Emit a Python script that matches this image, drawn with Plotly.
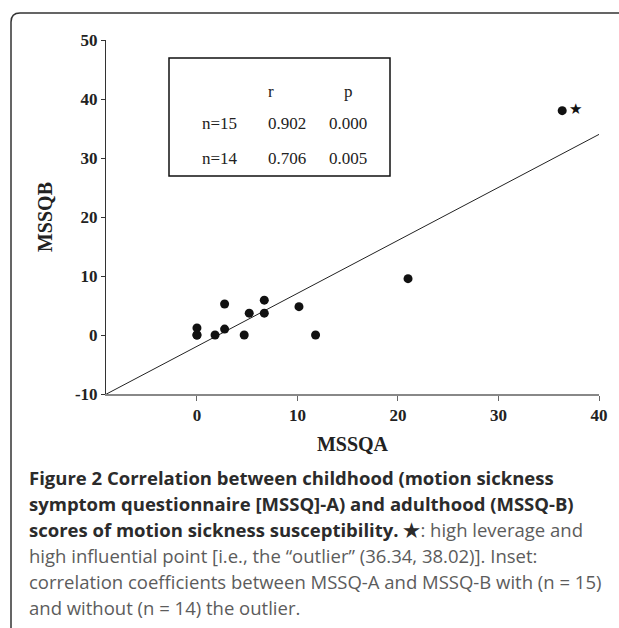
import plotly.graph_objects as go

# ---- data ----
mssqa = [0.0, 0.0, 0.0, 1.8, 2.75, 2.75, 4.7, 5.2, 6.7, 6.7, 10.15, 11.8, 21.0]
mssqb = [0.0, 0.0, 1.2, 0.0, 5.25, 1.0, 0.0, 3.7, 5.9, 3.7, 4.8, 0.0, 9.55]
outlier_x = [36.34]
outlier_y = [38.02]
fit_slope = 0.898
fit_intercept = -1.92
x_range = [-9.05, 40]
y_range = [-10, 50]
x_ticks = [0, 10, 20, 30, 40]
y_ticks = [-10, 0, 10, 20, 30, 40, 50]
y_ticklabels = ["-10", "0", "10", "20", "30", "40", "50"]
inset_header = ["", "r", "p"]
inset_rows = [["n=15", "0.902", "0.000"], ["n=14", "0.706", "0.005"]]

W, H = 619, 628
L, R, T, B = 106, 20, 40, 234
PW, PH = W - L - R, H - T - B


def px(x):
    return (x - L) / PW


def py(y):
    return (H - B - y) / PH


fig = go.Figure()

fit_x = list(x_range)
fit_y = [fit_slope * v + fit_intercept for v in fit_x]
fig.add_trace(go.Scatter(x=fit_x, y=fit_y, mode="lines",
                         line=dict(color="#222", width=1), hoverinfo="skip"))
fig.add_trace(go.Scatter(x=mssqa, y=mssqb, mode="markers",
                         marker=dict(color="#111", size=9)))
fig.add_trace(go.Scatter(x=outlier_x, y=outlier_y, mode="markers+text",
                         marker=dict(color="#111", size=9),
                         text=["★"], textposition="middle right",
                         textfont=dict(size=15, color="#111")))

serif = "Liberation Serif, Times New Roman, serif"
fig.update_layout(
    width=W, height=H,
    margin=dict(l=L, r=R, t=T, b=B),
    paper_bgcolor="white", plot_bgcolor="white",
    showlegend=False,
    xaxis=dict(range=x_range, tickvals=x_ticks, showgrid=False, zeroline=False,
               showline=True, linecolor="#888", linewidth=2,
               ticks="outside", ticklen=5, tickcolor="#666", tickwidth=1,
               tickfont=dict(family=serif, size=17, color="#222", weight="bold"),
               title=dict(text="<b>MSSQA</b>", font=dict(family=serif, size=20, color="#222"),
                          standoff=13)),
    yaxis=dict(range=y_range, tickvals=y_ticks, ticktext=y_ticklabels,
               showgrid=False, zeroline=False,
               showline=True, linecolor="#333", linewidth=1,
               ticks="outside", ticklen=4, tickcolor="#333", tickwidth=1,
               tickfont=dict(family=serif, size=17, color="#222", weight="bold"),
               title=dict(text="<b>MSSQB</b>", font=dict(family=serif, size=20, color="#222"),
                          standoff=16)),
)

# outer rounded frame
x0, y0 = px(11), py(13)
rx, ry = 9 / PW, 9 / PH
path = (f"M {x0},{py(630)} L {x0},{y0 - ry} Q {x0},{y0} {x0 + rx},{y0} "
        f"L {px(640)},{y0}")
fig.add_shape(type="path", path=path, xref="paper", yref="paper",
              line=dict(color="#333", width=1.5))

# inset box
fig.add_shape(type="rect", xref="paper", yref="paper",
              x0=px(169), y0=py(176), x1=px(390), y1=py(58),
              line=dict(color="#111", width=1.5), fillcolor="white", layer="above")
col_x = [200, 266, 348]
row_y = [80, 112, 147]
for j, t in enumerate(inset_header):
    if t:
        fig.add_annotation(x=px(col_x[j]), y=py(row_y[0]), xref="paper", yref="paper",
                           text=t, showarrow=False,
                           font=dict(family=serif, size=17, color="#222"))
for i, row in enumerate(inset_rows):
    for j, t in enumerate(row):
        fig.add_annotation(x=px(col_x[j]), y=py(row_y[i + 1]), xref="paper", yref="paper",
                           text=t, showarrow=False,
                           font=dict(family=serif, size=17, color="#222"))

# caption
dark = "#2b2b2b"
grey = "#5c5c5c"
cap_lines = [
    f"<b>Figure 2 Correlation between childhood (motion sickness</b>",
    f"<b>symptom questionnaire [MSSQ]-A) and adulthood (MSSQ-B)</b>",
    f"<b>scores of motion sickness susceptibility. ★</b><span style='color:{grey}'>: high leverage and</span>",
    f"<span style='color:{grey}'>high influential point [i.e., the “outlier” (36.34, 38.02)]. Inset:</span>",
    f"<span style='color:{grey}'>correlation coefficients between MSSQ-A and MSSQ-B with (n = 15)</span>",
    f"<span style='color:{grey}'>and without (n = 14) the outlier.</span>",
]
for k, t in enumerate(cap_lines):
    fig.add_annotation(x=px(27), y=py(477 + 26 * k), xref="paper", yref="paper",
                       xanchor="left", yanchor="middle", text=t, showarrow=False,
                       font=dict(family="Open Sans, sans-serif", size=18.5, color=dark))

fig.write_html("out.html", config={"displayModeBar": False},
               post_script="document.body.style.margin='0';document.body.style.overflow='hidden';")
